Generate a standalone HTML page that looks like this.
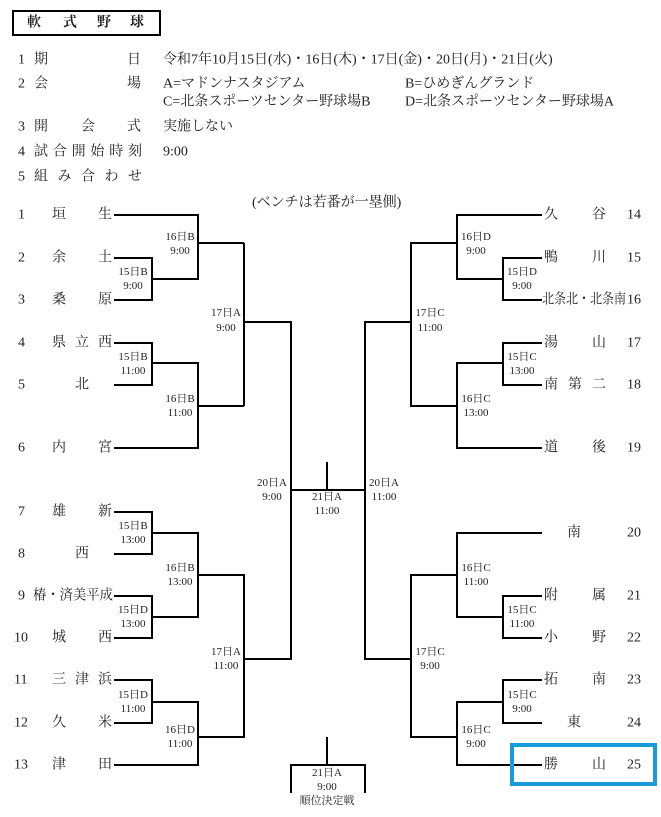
<!DOCTYPE html>
<html><head><meta charset="utf-8"><style>
html,body{margin:0;padding:0;background:#fff;width:661px;height:817px;overflow:hidden}
svg{display:block}
text{font-family:"Liberation Serif","Noto Serif CJK SC",serif;fill:#222}
.n{font-size:14px}
.l{font-size:11px}
</style></head><body>
<svg width="661" height="817" viewBox="0 0 661 817">
<rect x="13" y="11" width="147" height="24" fill="none" stroke="#000" stroke-width="2"/>
<g class="n" style="font-weight:bold" dominant-baseline="central">
<text x="27" y="23" class="n">軟</text><text x="63" y="23" class="n">式</text><text x="97" y="23" class="n">野</text><text x="130" y="23" class="n">球</text>
</g>
<g class="n" dominant-baseline="central">
<text x="18" y="60" class="n">1</text><text x="34" y="60" class="n">期</text><text x="127" y="60" class="n">日</text>
<text x="163" y="60" class="n">令和7年10月15日(水)・16日(木)・17日(金)・20日(月)・21日(火)</text>
<text x="18" y="84" class="n">2</text><text x="34" y="84" class="n">会</text><text x="127" y="84" class="n">場</text>
<text x="163" y="84" class="n">A=マドンナスタジアム</text><text x="405" y="84" class="n">B=ひめぎんグランド</text>
<text x="163" y="102" class="n">C=北条スポーツセンター野球場B</text><text x="405" y="102" class="n">D=北条スポーツセンター野球場A</text>
<text x="18" y="127" class="n">3</text><text x="34" y="127" class="n">開</text><text x="81" y="127" class="n">会</text><text x="127" y="127" class="n">式</text>
<text x="163" y="127" class="n">実施しない</text>
<text x="18" y="152" class="n">4</text><text x="34" y="152" class="n" textLength="108" lengthAdjust="spacing">試合開始時刻</text>
<text x="163" y="152" class="n">9:00</text>
<text x="18" y="177" class="n">5</text><text x="34" y="177" class="n" textLength="108" lengthAdjust="spacing">組み合わせ</text>
<text x="252" y="203" class="n">(ベンチは若番が一塁側)</text>
</g>
<g fill="none" stroke="#000" stroke-width="2">
<!-- left top -->
<polyline points="114,215 198,215 198,279 152,279"/>
<polyline points="114,258 152,258 152,300 114,300"/>
<polyline points="198,243 244,243"/>
<polyline points="114,343 152,343 152,385 114,385"/>
<polyline points="152,363 198,363 198,448 114,448"/>
<polyline points="198,406 244,406"/>
<polyline points="244,243 244,406"/>
<polyline points="244,322 291,322 291,659 244,659"/>
<!-- left bottom -->
<polyline points="114,512 152,512 152,554 114,554"/>
<polyline points="152,533 198,533 198,617 152,617"/>
<polyline points="114,596 152,596 152,638 114,638"/>
<polyline points="198,575 244,575 244,737 198,737"/>
<polyline points="114,680 152,680 152,723 114,723"/>
<polyline points="152,702 198,702 198,765 114,765"/>
<!-- right top -->
<polyline points="542,215 457,215 457,279 503,279"/>
<polyline points="542,258 503,258 503,300 542,300"/>
<polyline points="457,243 411,243 411,406 457,406"/>
<polyline points="542,343 503,343 503,385 542,385"/>
<polyline points="503,363 457,363 457,448 542,448"/>
<polyline points="411,322 365,322 365,659 411,659"/>
<!-- right bottom -->
<polyline points="542,533 457,533 457,617 503,617"/>
<polyline points="542,596 503,596 503,638 542,638"/>
<polyline points="457,575 411,575 411,737 457,737"/>
<polyline points="542,680 503,680 503,723 542,723"/>
<polyline points="503,702 457,702 457,765 542,765"/>
<!-- final -->
<polyline points="291,490 365,490"/>
<polyline points="327,462 327,490"/>
<polyline points="291,793 291,765 365,765 365,793"/>
<polyline points="327,737 327,765"/>
</g>
<rect x="512" y="745" width="143" height="39" fill="none" stroke="#1a9ad6" stroke-width="4"/>
<g class="n" dominant-baseline="central">
<text x="18" y="215" class="n">1</text><text x="52" y="215" class="n">垣</text><text x="98" y="215" class="n">生</text>
<text x="18" y="258" class="n">2</text><text x="52" y="258" class="n">余</text><text x="98" y="258" class="n">土</text>
<text x="18" y="300" class="n">3</text><text x="52" y="300" class="n">桑</text><text x="98" y="300" class="n">原</text>
<text x="18" y="343" class="n">4</text><text x="52" y="343" class="n">県</text><text x="75" y="343" class="n">立</text><text x="98" y="343" class="n">西</text>
<text x="18" y="385" class="n">5</text><text x="75" y="385" class="n">北</text>
<text x="18" y="448" class="n">6</text><text x="52" y="448" class="n">内</text><text x="98" y="448" class="n">宮</text>
<text x="18" y="512" class="n">7</text><text x="52" y="512" class="n">雄</text><text x="98" y="512" class="n">新</text>
<text x="18" y="554" class="n">8</text><text x="75" y="554" class="n">西</text>
<text x="18" y="596" class="n">9</text><text x="33" y="596" class="n" textLength="80" lengthAdjust="spacingAndGlyphs">椿・済美平成</text>
<text x="14" y="638" class="n">10</text><text x="52" y="638" class="n">城</text><text x="98" y="638" class="n">西</text>
<text x="14" y="680" class="n">11</text><text x="52" y="680" class="n">三</text><text x="75" y="680" class="n">津</text><text x="98" y="680" class="n">浜</text>
<text x="14" y="723" class="n">12</text><text x="52" y="723" class="n">久</text><text x="98" y="723" class="n">米</text>
<text x="14" y="765" class="n">13</text><text x="52" y="765" class="n">津</text><text x="98" y="765" class="n">田</text>

<text x="544" y="215" class="n">久</text><text x="592" y="215" class="n">谷</text><text x="627" y="215" class="n">14</text>
<text x="544" y="258" class="n">鴨</text><text x="592" y="258" class="n">川</text><text x="627" y="258" class="n">15</text>
<text x="542" y="300" class="n" textLength="84" lengthAdjust="spacingAndGlyphs">北条北・北条南</text><text x="627" y="300" class="n">16</text>
<text x="544" y="343" class="n">湯</text><text x="592" y="343" class="n">山</text><text x="627" y="343" class="n">17</text>
<text x="544" y="385" class="n">南</text><text x="568" y="385" class="n">第</text><text x="592" y="385" class="n">二</text><text x="627" y="385" class="n">18</text>
<text x="544" y="448" class="n">道</text><text x="592" y="448" class="n">後</text><text x="627" y="448" class="n">19</text>
<text x="567" y="533" class="n">南</text><text x="627" y="533" class="n">20</text>
<text x="544" y="596" class="n">附</text><text x="592" y="596" class="n">属</text><text x="627" y="596" class="n">21</text>
<text x="544" y="638" class="n">小</text><text x="592" y="638" class="n">野</text><text x="627" y="638" class="n">22</text>
<text x="544" y="680" class="n">拓</text><text x="592" y="680" class="n">南</text><text x="627" y="680" class="n">23</text>
<text x="567" y="723" class="n">東</text><text x="627" y="723" class="n">24</text>
<text x="544" y="765" class="n">勝</text><text x="592" y="765" class="n">山</text><text x="627" y="765" class="n">25</text>
</g>
<g class="l" text-anchor="middle" dominant-baseline="central">
<text x="133" y="272" class="l">15日B</text><text x="133" y="286" class="l">9:00</text>
<text x="180" y="237" class="l">16日B</text><text x="180" y="251" class="l">9:00</text>
<text x="226" y="313" class="l">17日A</text><text x="226" y="328" class="l">9:00</text>
<text x="133" y="357" class="l">15日B</text><text x="133" y="371" class="l">11:00</text>
<text x="180" y="399" class="l">16日B</text><text x="180" y="413" class="l">11:00</text>
<text x="133" y="526" class="l">15日B</text><text x="133" y="540" class="l">13:00</text>
<text x="180" y="568" class="l">16日B</text><text x="180" y="582" class="l">13:00</text>
<text x="133" y="610" class="l">15日D</text><text x="133" y="624" class="l">13:00</text>
<text x="226" y="652" class="l">17日A</text><text x="226" y="666" class="l">11:00</text>
<text x="133" y="695" class="l">15日D</text><text x="133" y="709" class="l">11:00</text>
<text x="180" y="730" class="l">16日D</text><text x="180" y="744" class="l">11:00</text>
<text x="272" y="483" class="l">20日A</text><text x="272" y="497" class="l">9:00</text>
<text x="327" y="497" class="l">21日A</text><text x="327" y="511" class="l">11:00</text>
<text x="384" y="483" class="l">20日A</text><text x="384" y="497" class="l">11:00</text>
<text x="476" y="237" class="l">16日D</text><text x="476" y="251" class="l">9:00</text>
<text x="522" y="272" class="l">15日D</text><text x="522" y="286" class="l">9:00</text>
<text x="430" y="313" class="l">17日C</text><text x="430" y="328" class="l">11:00</text>
<text x="522" y="357" class="l">15日C</text><text x="522" y="371" class="l">13:00</text>
<text x="476" y="399" class="l">16日C</text><text x="476" y="413" class="l">13:00</text>
<text x="476" y="568" class="l">16日C</text><text x="476" y="582" class="l">11:00</text>
<text x="522" y="610" class="l">15日C</text><text x="522" y="624" class="l">11:00</text>
<text x="430" y="652" class="l">17日C</text><text x="430" y="666" class="l">9:00</text>
<text x="522" y="695" class="l">15日C</text><text x="522" y="709" class="l">9:00</text>
<text x="476" y="730" class="l">16日C</text><text x="476" y="744" class="l">9:00</text>
<text x="327" y="773" class="l">21日A</text><text x="327" y="787" class="l">9:00</text><text x="327" y="801" class="l">順位決定戦</text>
</g>
</svg>
</body></html>
